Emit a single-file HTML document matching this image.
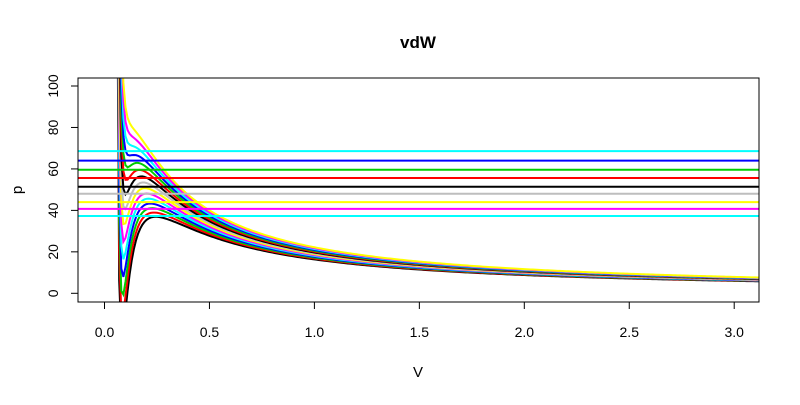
<!DOCTYPE html>
<html><head><meta charset="utf-8"><style>
body{margin:0;background:#fff;}
svg text{font-family:"Liberation Sans",Arial,sans-serif;fill:#000;}
</style></head><body>
<svg id="chart" width="800" height="400" xmlns="http://www.w3.org/2000/svg">
<defs><clipPath id="clip"><rect x="78" y="78" width="681" height="224"/></clipPath></defs>
<text x="418" y="48" font-size="17" font-weight="bold" text-anchor="middle">vdW</text>
<text x="418" y="377" font-size="15" text-anchor="middle">V</text>
<text transform="translate(22,190) rotate(-90)" font-size="15" text-anchor="middle">p</text>
<g id="curves" clip-path="url(#clip)"></g>
<g id="hlines" clip-path="url(#clip)"></g>
<g id="axes"></g>
<rect x="78" y="78" width="681" height="224" fill="none" stroke="#000" stroke-width="1"/>
</svg>
<script>
const xTicks = [0, 0.5, 1.0, 1.5, 2.0, 2.5, 3.0];
const xTickLabels = ["0.0", "0.5", "1.0", "1.5", "2.0", "2.5", "3.0"];
const yTicks = [0, 20, 40, 60, 80, 100];
const yTickLabels = ["0", "20", "40", "60", "80", "100"];
const vdwA = [3.4];
const vdwB = [0.043];
const temperaturesRT = [18.9, 19.3, 19.7, 20.1, 20.5, 20.9, 21.3, 21.7, 22.1, 22.5, 22.9, 23.3, 23.7, 24.1, 24.5];
const lineLevels = [37.3, 40.7, 44.0, 48.0, 51.4, 55.6, 59.6, 64.0, 68.6];
const lineColorIdx = [4, 5, 6, 7, 0, 1, 2, 3, 4];
const palette = ["#000000", "#ff0000", "#00cd00", "#0000ff", "#00ffff", "#ff00ff", "#ffff00", "#bebebe"];

const NS = "http://www.w3.org/2000/svg";
function sx(v){ return 104.5 + v * 209.9; }
function sy(p){ return 293.3 - p * 2.073; }

const axes = document.getElementById("axes");
xTicks.forEach((t, i) => {
  const l = document.createElementNS(NS, "line");
  l.setAttribute("x1", sx(t)); l.setAttribute("x2", sx(t));
  l.setAttribute("y1", 302); l.setAttribute("y2", 309);
  l.setAttribute("stroke", "#000");
  
  
  axes.appendChild(l);
  const tx = document.createElementNS(NS, "text");
  tx.setAttribute("x", sx(t)); tx.setAttribute("y", 337);
  tx.setAttribute("font-size", "14"); tx.setAttribute("text-anchor", "middle");
  tx.textContent = xTickLabels[i];
  
  
  axes.appendChild(tx);
});
yTicks.forEach((t, i) => {
  const l = document.createElementNS(NS, "line");
  l.setAttribute("x1", 71); l.setAttribute("x2", 78);
  l.setAttribute("y1", sy(t)); l.setAttribute("y2", sy(t));
  l.setAttribute("stroke", "#000");
  
  
  axes.appendChild(l);
  const tx = document.createElementNS(NS, "text");
  tx.setAttribute("transform", "translate(58," + sy(t) + ") rotate(-90)");
  tx.setAttribute("font-size", "14"); tx.setAttribute("text-anchor", "middle");
  tx.textContent = yTickLabels[i];
  
  
  axes.appendChild(tx);
});

const curves = document.getElementById("curves");
temperaturesRT.forEach((rt, i) => {
  const pts = [];
  for (let k = 5; k <= 320; k++) {
    const v = k / 100;
    let p = rt / (v - vdwB[0]) - vdwA[0] / (v * v);
    p = Math.max(-50, Math.min(300, p));
    pts.push(sx(v).toFixed(2) + "," + sy(p).toFixed(2));
  }
  const pl = document.createElementNS(NS, "polyline");
  pl.setAttribute("points", pts.join(" "));
  pl.setAttribute("fill", "none");
  pl.setAttribute("stroke", palette[i % 8]);
  pl.setAttribute("stroke-width", "2");
  
  
  curves.appendChild(pl);
});

const hl = document.getElementById("hlines");
lineLevels.forEach((p, i) => {
  const l = document.createElementNS(NS, "line");
  l.setAttribute("x1", 78); l.setAttribute("x2", 759);
  l.setAttribute("y1", sy(p)); l.setAttribute("y2", sy(p));
  l.setAttribute("stroke", palette[lineColorIdx[i]]);
  l.setAttribute("stroke-width", "2");
  
  
  hl.appendChild(l);
});
</script>
</body></html>
